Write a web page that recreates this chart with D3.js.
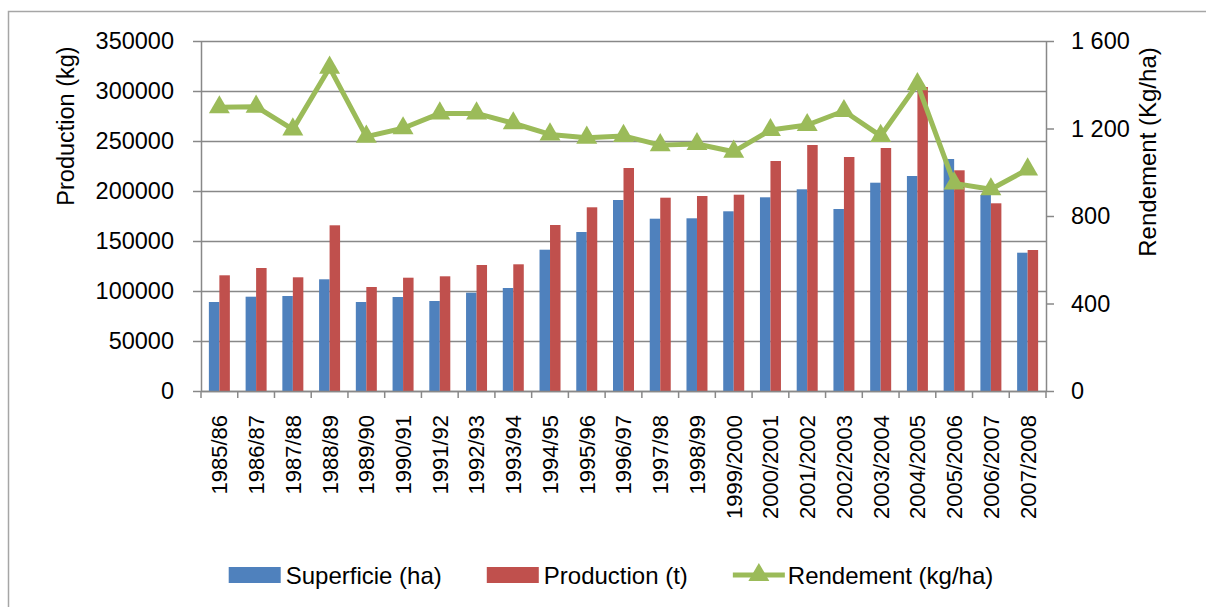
<!DOCTYPE html>
<html>
<head>
<meta charset="utf-8">
<script src="https://cdn.jsdelivr.net/npm/d3@7"></script>
<style>
  body { margin: 0; background: #fff; }
  text { font-family: "Liberation Sans", Arial, sans-serif; fill: #000; }
</style>
</head>
<body>
<svg id="chart" width="1206" height="607"></svg>
<script>
var years = ['1985/86', '1986/87', '1987/88', '1988/89', '1989/90', '1990/91', '1991/92', '1992/93',
    '1993/94', '1994/95', '1995/96', '1996/97', '1997/98', '1998/99', '1999/2000', '2000/2001',
    '2001/2002', '2002/2003', '2003/2004', '2004/2005', '2005/2006', '2006/2007', '2007/2008'];

var superficie = [89000, 94300, 95000, 111700, 89000, 94000, 90000, 98300, 103000, 141300, 159000, 191000,
    172300, 172700, 179700, 193700, 201700, 182000, 208300, 215000, 232000, 196000, 138300];

var production = [115700, 123000, 113700, 165700, 104000, 113300, 114700, 126000, 126700, 166000, 183700, 223000,
    193300, 195000, 196300, 230000, 246000, 234000, 243000, 304000, 220700, 187700, 141000];

var rendement = [1297, 1300, 1196, 1478, 1163, 1201, 1269, 1269, 1224, 1173, 1158, 1166,
    1124, 1129, 1094, 1193, 1216, 1280, 1166, 1403, 949, 922, 1013];

var leftTicks = [0, 50000, 100000, 150000, 200000, 250000, 300000, 350000];
var rightTicks = [0, 400, 800, 1200, 1600];
var rightTickLabels = ['0', '400', '800', '1 200', '1 600'];

var seriesNames = ['Superficie (ha)', 'Production (t)', 'Rendement (kg/ha)'];
var colors = ['#4f81bd', '#c0504d', '#9bbb59'];
var grid = '#888888';

// plot area edges
var pLeft = 201, pRight = 1046, pTop = 41, pBottom = 391;

var svg = d3.select('#chart');

// outer frame of the chart (runs off the picture on right and bottom)
svg.append('rect')
    .attr('x', 8.5).attr('y', 11.5)
    .attr('width', 1300).attr('height', 700)
    .attr('fill', 'none')
    .attr('stroke', '#a6a6a6')
    .attr('stroke-width', 1.5);

var x = d3.scaleBand().domain(years).range([pLeft, pRight]).padding(0);
var yL = d3.scaleLinear().domain([0, 350000]).range([pBottom, pTop]);
var yR = d3.scaleLinear().domain([0, 1600]).range([pBottom, pTop]);

var barW = x.bandwidth() / 3.5;

// gridlines
svg.append('g')
    .attr('transform', 'translate(' + pLeft + ',0)')
    .call(d3.axisLeft(yL).tickValues(leftTicks).tickSize(-(pRight - pLeft)).tickFormat(''))
    .call(function (g) {
        g.select('.domain').remove();
        g.selectAll('line').attr('stroke', grid).attr('stroke-width', 1.5);
    });

// bars
var groups = svg.append('g').selectAll('g')
    .data(years)
    .enter()
    .append('g');

groups.append('rect')
    .attr('x', function (d) { return x(d) + x.bandwidth() / 2 - barW; })
    .attr('y', function (d, i) { return yL(superficie[i]); })
    .attr('width', barW)
    .attr('height', function (d, i) { return pBottom - yL(superficie[i]); })
    .attr('fill', colors[0]);

groups.append('rect')
    .attr('x', function (d) { return x(d) + x.bandwidth() / 2; })
    .attr('y', function (d, i) { return yL(production[i]); })
    .attr('width', barW)
    .attr('height', function (d, i) { return pBottom - yL(production[i]); })
    .attr('fill', colors[1]);

// left axis
svg.append('g')
    .attr('transform', 'translate(' + pLeft + ',0)')
    .call(d3.axisLeft(yL).tickValues(leftTicks).tickSizeInner(8).tickSizeOuter(0).tickPadding(19).tickFormat(d3.format('d')))
    .call(function (g) {
        g.select('.domain').attr('stroke', grid).attr('stroke-width', 1.5);
        g.selectAll('line').attr('stroke', grid).attr('stroke-width', 1.5);
        g.selectAll('text').attr('font-size', 23.5).attr('font-family', null).attr('fill', '#000');
    });

// right axis
svg.append('g')
    .attr('transform', 'translate(' + pRight + ',0)')
    .call(d3.axisRight(yR).tickValues(rightTicks).tickSizeInner(8).tickSizeOuter(0).tickPadding(17)
        .tickFormat(function (d, i) { return rightTickLabels[i]; }))
    .call(function (g) {
        g.select('.domain').attr('stroke', grid).attr('stroke-width', 1.5);
        g.selectAll('line').attr('stroke', grid).attr('stroke-width', 1.5);
        g.selectAll('text').attr('font-size', 23.5).attr('font-family', null).attr('fill', '#000');
    });

// bottom axis, labels turned up
svg.append('g')
    .attr('transform', 'translate(0,' + pBottom + ')')
    .call(d3.axisBottom(x).tickSize(0).tickPadding(0))
    .call(function (g) {
        g.select('.domain').attr('stroke', grid).attr('stroke-width', 1.5);
        g.selectAll('text')
            .attr('font-size', 22)
            .attr('font-family', null)
            .attr('fill', '#000')
            .attr('text-anchor', 'end')
            .attr('transform', 'translate(0,24) rotate(-90)')
            .attr('y', 0)
            .attr('dy', '0.36em');
    });

// category separators on the x axis
svg.append('g').selectAll('line')
    .data(years.concat(['end']))
    .enter()
    .append('line')
    .attr('x1', function (d, i) { return i < years.length ? x(d) : pRight; })
    .attr('x2', function (d, i) { return i < years.length ? x(d) : pRight; })
    .attr('y1', pBottom)
    .attr('y2', pBottom + 7)
    .attr('stroke', grid)
    .attr('stroke-width', 1.5);

// rendement line
var line = d3.line()
    .x(function (d, i) { return x(years[i]) + x.bandwidth() / 2; })
    .y(function (d) { return yR(d); });

svg.append('path')
    .datum(rendement)
    .attr('d', line)
    .attr('fill', 'none')
    .attr('stroke', colors[2])
    .attr('stroke-width', 5)
    .attr('stroke-linejoin', 'round');

var tri = d3.symbol().type(d3.symbolTriangle).size(190);

svg.append('g').selectAll('path')
    .data(rendement)
    .enter()
    .append('path')
    .attr('d', tri)
    .attr('transform', function (d, i) {
        return 'translate(' + (x(years[i]) + x.bandwidth() / 2) + ',' + yR(d) + ')';
    })
    .attr('fill', colors[2]);

// axis titles
svg.append('text')
    .attr('transform', 'translate(74,126) rotate(-90)')
    .attr('text-anchor', 'middle')
    .attr('font-size', 23.5)
    .text('Production (kg)');

svg.append('text')
    .attr('transform', 'translate(1156,152) rotate(-90)')
    .attr('text-anchor', 'middle')
    .attr('font-size', 24)
    .text('Rendement (Kg/ha)');

// legend
var legend = svg.append('g');
var lx = 0;
seriesNames.forEach(function (name, i) {
    var item = legend.append('g').attr('transform', 'translate(' + lx + ',0)');
    if (i < 2) {
        item.append('rect')
            .attr('x', 0).attr('y', -8)
            .attr('width', 52).attr('height', 16)
            .attr('fill', colors[i]);
    }
    else {
        item.append('line')
            .attr('x1', 0).attr('x2', 52)
            .attr('y1', 0).attr('y2', 0)
            .attr('stroke', colors[2])
            .attr('stroke-width', 5);
        item.append('path')
            .attr('d', tri)
            .attr('transform', 'translate(26,0)')
            .attr('fill', colors[2]);
    }
    var t = item.append('text')
        .attr('x', i < 2 ? 57 : 55)
        .attr('dy', '0.36em')
        .attr('font-size', 24)
        .text(name);
    lx += (i < 2 ? 57 : 55) + t.node().getComputedTextLength() + 45;
});
lx -= 45;
legend.attr('transform', 'translate(' + (611 - lx / 2) + ',575)');
</script>
</body>
</html>
